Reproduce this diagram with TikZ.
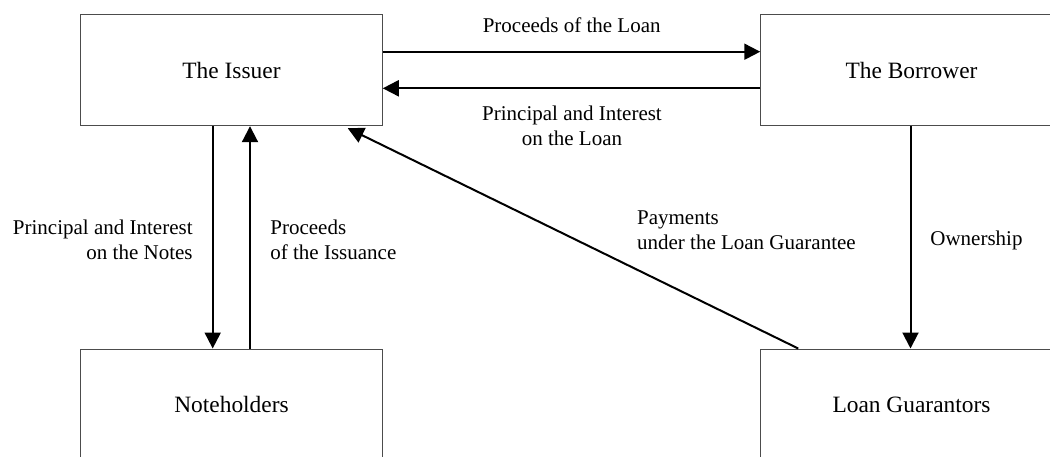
\documentclass[tikz,border=0pt]{standalone}
\usepackage{fontspec}
\setmainfont{Liberation Serif}
\usetikzlibrary{arrows.meta}
\begin{document}
\begin{tikzpicture}[x=0.5pt,y=-0.5pt,
  party/.style={draw=black!70,line width=0.5pt,minimum width=150.75pt,minimum height=55.5pt,inner sep=0pt,font=\fontsize{11.7}{13}\selectfont},
  flow/.style={line width=1pt,-{Triangle[length=8pt,width=8pt]}},
  lbl/.style={inner sep=0pt,font=\fontsize{10.5}{12.5}\selectfont}]
\useasboundingbox (0,0) rectangle (1050,456);
\clip (0,0) rectangle (1050,456);
\node[party] (issuer) at (231.5,70.2) {The Issuer};
\node[party] (borrower) at (911.5,70.2) {The Borrower};
\node[party] (notes) at (231.5,404.5) {Noteholders};
\node[party] (guar) at (911.5,404.5) {Loan Guarantors};
% horizontal flows
\draw[flow] (issuer.east |- 0,51.7) -- (borrower.west |- 0,51.7);
\draw[flow] (borrower.west |- 0,88.3) -- (issuer.east |- 0,88.3);
% vertical flows
\draw[flow] (issuer.south -| 212.7,0) -- (notes.north -| 212.7,0);
\draw[flow] (notes.north -| 250,0) -- (issuer.south -| 250,0);
\draw[flow] (borrower.south -| 910.5,0) -- (guar.north -| 910.5,0);
% diagonal
\coordinate (gstart) at ([xshift=19pt]guar.north west);
\coordinate (iend) at ([xshift=-17.5pt,yshift=-1pt]issuer.south east);
\draw[flow] (gstart) -- (iend);
% labels
\node[lbl] (l1) at (571.7,25) {Proceeds of the Loan};
\node[lbl,align=center] (l2) at (572,126) {Principal and Interest\\on the Loan};
\node[lbl,align=right,anchor=east] (l3) at (193,239.5) {Principal and Interest\\on the Notes};
\node[lbl,align=left,anchor=west] (l4) at (270,239.5) {Proceeds\\of the Issuance};
\node[lbl,align=left,anchor=west] (l5) at (636.7,230.5) {Payments\\under the Loan Guarantee};
\node[lbl,anchor=west] (l6) at (930,240) {Ownership};
\end{tikzpicture}
\end{document}
